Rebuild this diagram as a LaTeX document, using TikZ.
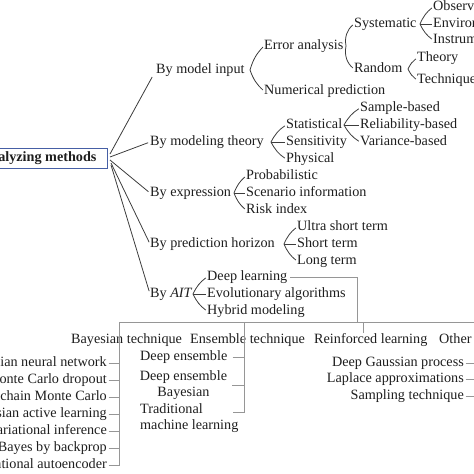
\documentclass[tikz,border=0pt]{standalone}
\usepackage{fontspec}
\setmainfont{Liberation Serif}
\definecolor{rootblue}{RGB}{70,95,165}
\definecolor{txt}{RGB}{30,30,30}
\definecolor{dline}{RGB}{60,60,60}
\definecolor{gline}{RGB}{150,150,150}
\newcommand{\fs}{\fontsize{14.2pt}{17pt}\selectfont}
\begin{document}
\begin{tikzpicture}[x=1pt,y=1pt,
  every node/.style={inner sep=0pt, font=\fs, text=txt},
  lab/.style={anchor=west, text height=9.5pt, text depth=3pt},
  rlab/.style={anchor=east, text height=9.5pt, text depth=3pt},
  conn/.style={draw=dline, line width=0.8pt},
  gconn/.style={draw=gline, line width=0.8pt},
  up/.style={conn, bend left=14, shorten >=1.5pt},
  dn/.style={conn, bend right=14, shorten >=1.5pt},
  mid/.style={conn, shorten >=1.5pt},
  rootbox/.style={draw=rootblue, line width=1pt, anchor=east, inner xsep=11pt,
    minimum height=20pt, text height=9.5pt, text depth=3pt, font=\bfseries\fs}
]
\useasboundingbox (0,0) rectangle (474,-474);
\clip (0,0) rectangle (474,-474);

% root
\node[rootbox] (root) at (108,-158) {Uncertainty analyzing methods};

% level 1
\node[lab] (m1) at (156,-70) {By model input};
\node[lab] (m2) at (150,-142) {By modeling theory};
\node[lab] (m3) at (150,-193) {By expression};
\node[lab] (m4) at (150,-244) {By prediction horizon};
\node[lab] (m5) at (150,-294) {By \textit{AIT}};

\coordinate (r1) at (110,-154);
\coordinate (r2) at (110,-157);
\coordinate (r3) at (110,-160);
\coordinate (r4) at (111,-163);
\coordinate (r5) at (111,-165);
\draw[conn, shorten >=8pt] (r1) -- (m1.west);
\draw[conn, shorten >=2pt] (r2) -- (m2.west);
\draw[conn, shorten >=2pt] (r3) -- (m3.west);
\draw[conn, shorten >=2pt] (r4) -- (m4.west);
\draw[conn, shorten >=3pt] (r5) -- (m5.west);

% by model input
\node[lab] (ea) at (264,-46) {Error analysis};
\node[lab] (np) at (264,-91) {Numerical prediction};
\coordinate (p1) at (250,-70);
\draw[up] (p1) to (ea.west);
\draw[dn] (p1) to (np.west);

\node[lab] (sy) at (354,-24) {Systematic};
\node[lab] (ra) at (354,-69) {Random};
\coordinate (p2) at (346,-46);
\draw[conn, bend left=30, shorten >=1.5pt] (p2) to (sy.west);
\draw[conn, bend right=30, shorten >=1.5pt] (p2) to (ra.west);

\node[lab] (ob) at (433,-7) {Observation};
\node[lab] (en) at (433,-24) {Environment};
\node[lab] (in) at (433,-40) {Instrument};
\coordinate (p3) at (420,-24);
\draw[up] (p3) to (ob.west);
\draw[mid] (p3) to (en.west);
\draw[dn] (p3) to (in.west);

\node[lab] (th) at (417,-58) {Theory};
\node[lab] (te) at (417,-80) {Techniques};
\coordinate (p4) at (408,-69);
\draw[up] (p4) to (th.west);
\draw[dn] (p4) to (te.west);

% by modeling theory
\node[lab] (st) at (286,-125) {Statistical};
\node[lab] (se) at (286,-142) {Sensitivity};
\node[lab] (ph) at (286,-159) {Physical};
\coordinate (p5) at (271,-142);
\draw[up] (p5) to (st.west);
\draw[mid] (p5) to (se.west);
\draw[dn] (p5) to (ph.west);

\node[lab] (sb) at (360,-108) {Sample-based};
\node[lab] (rb) at (360,-125) {Reliability-based};
\node[lab] (vb) at (360,-142) {Variance-based};
\coordinate (p6) at (344,-125);
\draw[up] (p6) to (sb.west);
\draw[mid] (p6) to (rb.west);
\draw[dn] (p6) to (vb.west);

% by expression
\node[lab] (pr) at (246,-176) {Probabilistic};
\node[lab] (sc) at (246,-193) {Scenario information};
\node[lab] (ri) at (246,-210) {Risk index};
\coordinate (p7) at (234,-193);
\draw[up] (p7) to (pr.west);
\draw[mid] (p7) to (sc.west);
\draw[dn] (p7) to (ri.west);

% by prediction horizon
\node[lab] (us) at (297,-227) {Ultra short term};
\node[lab] (sh) at (297,-244) {Short term};
\node[lab] (lo) at (297,-261) {Long term};
\coordinate (p8) at (284,-244);
\draw[up] (p8) to (us.west);
\draw[mid] (p8) to (sh.west);
\draw[dn] (p8) to (lo.west);

% by AIT
\node[lab] (dl) at (207,-277) {Deep learning};
\node[lab] (ev) at (207,-294) {Evolutionary algorithms};
\node[lab] (hy) at (207,-311) {Hybrid modeling};
\coordinate (p9) at (193,-294);
\draw[up] (p9) to (dl.west);
\draw[mid] (p9) to (ev.west);
\draw[dn] (p9) to (hy.west);

% deep learning tree
\coordinate (j1) at (357,-322);
\coordinate (b1) at (119,-322);
\coordinate (b2) at (244,-322);
\coordinate (b3) at (363,-322);
\coordinate (b4) at (476,-322);
\coordinate (b3e) at (363,-333);
\draw[gconn, shorten <=3pt] (dl.east) -| (j1);
\draw[gconn] (b1) -- (b4);
\draw[gconn] (b3) -- (b3e);

\node[lab] (cb) at (71,-340) {Bayesian technique};
\node[lab] (ce) at (190,-340) {Ensemble technique};
\node[lab] (cr) at (314,-340) {Reinforced learning};
\node[lab] (co) at (439,-340) {Other};

% Bayesian items
\node[rlab] (y1) at (107,-363) {Bayesian neural network};
\node[rlab] (y2) at (107,-380) {Monte Carlo dropout};
\node[rlab] (y3) at (107,-397) {Markov chain Monte Carlo};
\node[rlab] (y4) at (107,-414) {Bayesian active learning};
\node[rlab] (y5) at (107,-431) {Variational inference};
\node[rlab] (y6) at (107,-448) {Bayes by backprop};
\node[rlab] (y7) at (107,-465) {Variational autoencoder};
\foreach \n in {y1,y2,y3,y4,y5,y6,y7}
  \draw[gconn, shorten <=1.5pt] (\n.east) -| (b1);

% Ensemble items
\node[lab] (e1) at (140,-357) {Deep ensemble};
\node[align=center, font=\fontsize{14.2pt}{16pt}\selectfont] (e2) at (183.5,-385) {Deep ensemble\\Bayesian};
\node[align=left, anchor=west, font=\fontsize{14.2pt}{16pt}\selectfont] (e3) at (140,-418) {Traditional\\machine learning};
\coordinate (e3c) at (233,-412);
\draw[gconn, shorten <=5pt] (e1.east) -| (b2);
\draw[gconn, shorten <=5pt] (e2.east) -| (b2);
\draw[gconn] (e3c) -| (b2);

% Other items
\node[rlab] (o1) at (464,-363) {Deep Gaussian process};
\node[rlab] (o2) at (464,-379) {Laplace approximations};
\node[rlab] (o3) at (464,-396) {Sampling technique};
\foreach \n in {o1,o2,o3}
  \draw[gconn, shorten <=1.5pt] (\n.east) -| (b4);
\end{tikzpicture}
\end{document}
